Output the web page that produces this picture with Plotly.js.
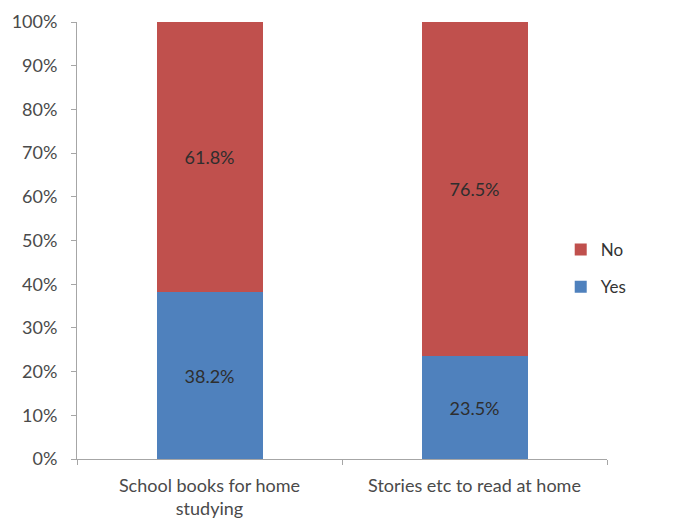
<!DOCTYPE html>
<html>
<head>
<meta charset="utf-8">
<script src="https://cdn.plot.ly/plotly-3.0.1.min.js"></script>
<style>html,body{margin:0;padding:0;background:#fff;}#chart{width:688px;height:523px;}</style>
</head>
<body>
<div id="chart"></div>
<script>
const categories = ["School books for home<br>studying", "Stories etc to read at home"];
const yesValues = [38.2, 23.5];
const noValues = [61.8, 76.5];
const yTickVals = [0,10,20,30,40,50,60,70,80,90,100];
const yTickText = yTickVals.map(v => v + "%");

const fontFamily = "Lato, 'Open Sans', sans-serif";
const textColor = "#4a4a4a";

const traces = [
  {
    type: "bar", name: "Yes", x: categories, y: yesValues,
    marker: {color: "#4F81BD"},
    text: yesValues.map(v => v.toFixed(1) + "%"),
    textposition: "inside", insidetextanchor: "middle",
    textfont: {family: fontFamily, size: 18, color: "#2e2e2e"},
    legendgroup: "yes", legendrank: 2, hoverinfo: "none"
  },
  {
    type: "bar", name: "No", x: categories, y: noValues,
    marker: {color: "#C0504D"},
    text: noValues.map(v => v.toFixed(1) + "%"),
    textposition: "inside", insidetextanchor: "middle",
    textfont: {family: fontFamily, size: 18, color: "#2e2e2e"},
    legendgroup: "no", legendrank: 1, hoverinfo: "none"
  }
];

const layout = {
  width: 688, height: 523,
  margin: {l: 77, r: 81, t: 22, b: 64, autoexpand: false},
  barmode: "stack",
  bargap: 0.6,
  paper_bgcolor: "#ffffff",
  plot_bgcolor: "#ffffff",
  font: {family: fontFamily, size: 18, color: textColor},
  showlegend: true,
  legend: {
    xref: "container", yref: "container",
    x: 0.815, y: 0.4866, xanchor: "left", yanchor: "middle",
    traceorder: "grouped", tracegroupgap: 12,
    font: {family: fontFamily, size: 17, color: "#333333"},
    itemwidth: 30
  },
  xaxis: {
    type: "category",
    showline: true, linecolor: "#A6A6A6", linewidth: 1,
    ticks: "outside", tickson: "boundaries", ticklen: 5, tickcolor: "#A6A6A6",
    ticklabelstandoff: 10,
    showgrid: false, zeroline: false,
    tickfont: {family: fontFamily, size: 18, color: textColor}
  },
  yaxis: {
    range: [0, 100],
    tickvals: yTickVals, ticktext: yTickText,
    showline: true, linecolor: "#A6A6A6", linewidth: 1,
    ticks: "outside", ticklen: 5, tickcolor: "#A6A6A6",
    ticklabelstandoff: 10,
    showgrid: false, zeroline: false,
    tickfont: {family: fontFamily, size: 18, color: textColor}
  }
};

Plotly.newPlot("chart", traces, layout, {displayModeBar: false, staticPlot: true});
</script>
</body>
</html>
